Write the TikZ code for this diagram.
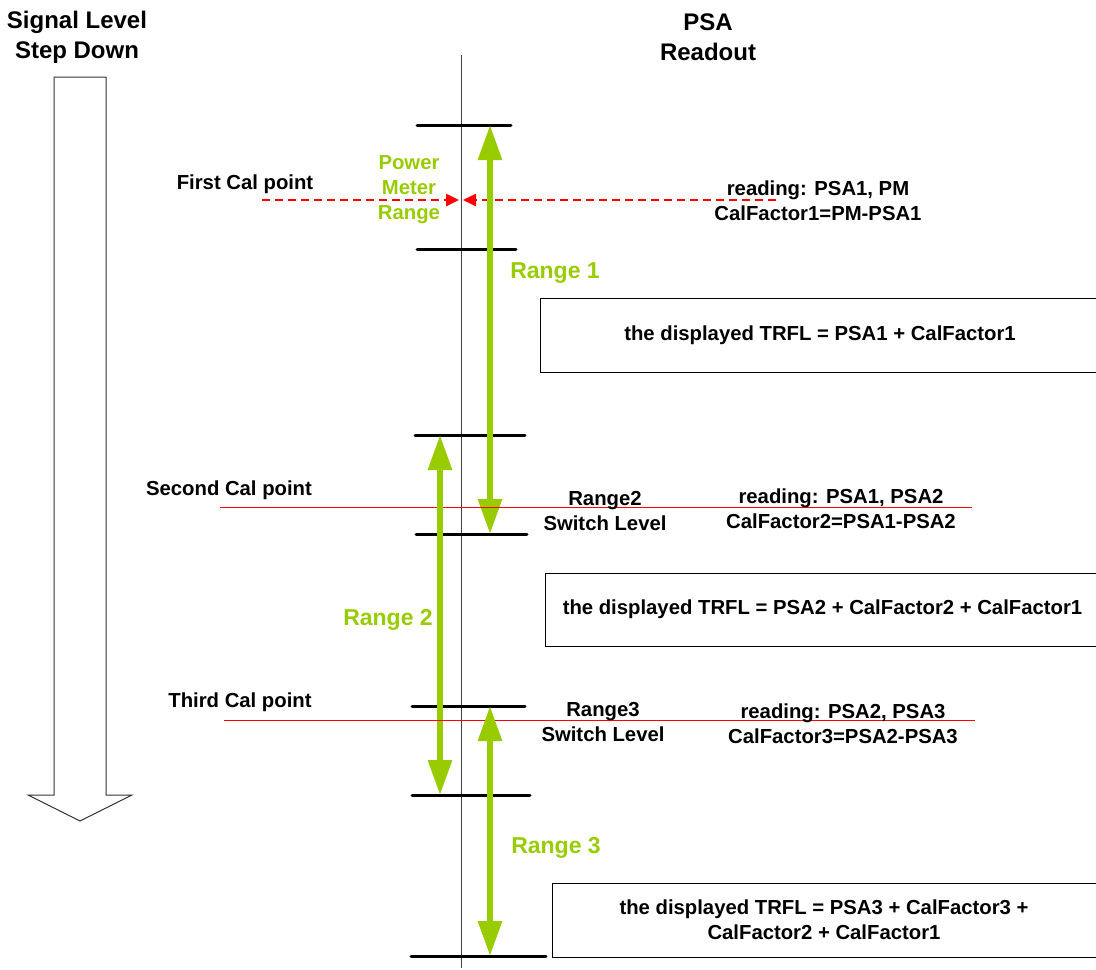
\documentclass[tikz,border=0pt]{standalone}
\usepackage{fontspec}
\setmainfont{Liberation Sans}
\usepackage{tikz}
\usetikzlibrary{arrows.meta}
\definecolor{rangegreen}{RGB}{153,204,0}
\definecolor{calred}{RGB}{255,0,0}

\begin{document}
\begin{tikzpicture}[
  x=1pt,y=-1pt,
  head/.style={font=\fontsize{24}{30}\selectfont\bfseries,align=center,inner sep=0pt},
  lbl/.style={font=\fontsize{20.3}{25}\selectfont\bfseries,align=center,inner sep=0pt},
  pmlbl/.style={lbl,text=rangegreen},
  rnglbl/.style={font=\fontsize{23}{28}\selectfont\bfseries,text=rangegreen,inner sep=0pt},
  level/.style={line width=3pt,line cap=round},
  rngArc/.style={{Triangle[length=35pt,width=23pt]}-{Triangle[length=35pt,width=23pt]},
                 line width=6pt,rangegreen},
  pmArc/.style={-{Triangle[length=13pt,width=12pt]},line width=2.5pt,calred,
                dash pattern=on 8pt off 5pt},
  calline/.style={calred,line width=1pt},
  disp/.style={draw,line width=1pt,lbl,minimum height=74pt}
]
\useasboundingbox (0,0) rectangle (1096,970);
% headings
\node[head] (sig) at (77,37)  {Signal Level\\Step Down};
\node[head] (psa) at (708,37) {PSA\\Readout};
% step down arrow
\draw[line width=1pt,draw=black!80,fill=white]
  (54,77) -- (106,77) -- (106,795) -- (132,795) -- (80,821) -- (28,795) -- (54,795) -- cycle;
% readout axis
\coordinate (axT) at (461,55);
\coordinate (axB) at (461,968);
\draw[line width=1pt,black!75] (axT) -- (axB);
% range levels
\coordinate (l1a) at (417,125); \coordinate (l1b) at (511,125);
\coordinate (l2a) at (417,249); \coordinate (l2b) at (516,249);
\coordinate (l3a) at (415,435); \coordinate (l3b) at (525,435);
\coordinate (l4a) at (416,534); \coordinate (l4b) at (527,534);
\coordinate (l5a) at (412,706); \coordinate (l5b) at (525,706);
\coordinate (l6a) at (412,795); \coordinate (l6b) at (530,795);
\coordinate (l7a) at (411,956); \coordinate (l7b) at (546,956);
\foreach \i in {1,...,7}
  \draw[level] (l\i a) -- (l\i b);
% first cal point
\node[lbl] (cal1) at (245,184) {First Cal point};
\node[pmlbl] (pm) at (409,190) {Power\\Meter\\Range};
\coordinate (pmL) at (262,200);  \coordinate (pmTipL) at (459,200);
\coordinate (pmR) at (776,200);  \coordinate (pmTipR) at (463,200);
\draw[pmArc] (pmL) -- (pmTipL);
\draw[pmArc] (pmR) -- (pmTipR);
\node[lbl] (rd1) at (818,201) {reading: PSA1, PM\\CalFactor1=PM-PSA1};
% range 1
\coordinate (r1T) at (490,125); \coordinate (r1B) at (490,534);
\draw[rngArc] (r1B) -- (r1T);
\node[rnglbl] (rng1) at (555,273) {Range 1};
\node[disp,minimum width=560pt] (box1) at (820,335.5) {the displayed TRFL = PSA1 + CalFactor1};
% second cal point
\node[lbl] (cal2) at (229,490) {Second Cal point};
\coordinate (c2L) at (220,507);
\coordinate (c2R) at (972,507);
\draw[calline] (c2L) -- (c2R);
\node[lbl] (sw2) at (605,511) {Range2\\Switch Level};
\node[lbl] (rd2) at (841,509) {reading: PSA1, PSA2\\CalFactor2=PSA1-PSA2};
% range 2
\coordinate (r2T) at (440,435); \coordinate (r2B) at (440,795);
\draw[rngArc] (r2T) -- (r2B);
\node[rnglbl] (rng2) at (388,620) {Range 2};
\node[disp,minimum width=555pt,minimum height=73pt] (box2) at (822.5,609.5)
  {the displayed TRFL = PSA2 + CalFactor2 + CalFactor1};
% third cal point
\node[lbl] (cal3) at (240,702) {Third Cal point};
\coordinate (c3L) at (224,720);
\coordinate (c3R) at (975,720);
\draw[calline] (c3L) -- (c3R);
\node[lbl] (sw3) at (603,722) {Range3\\Switch Level};
\node[lbl] (rd3) at (843,724) {reading: PSA2, PSA3\\CalFactor3=PSA2-PSA3};
% range 3
\coordinate (r3T) at (490,706); \coordinate (r3B) at (490,956);
\draw[rngArc] (r3T) -- (r3B);
\node[rnglbl] (rng3) at (556,848) {Range 3};
\node[disp,minimum width=544pt] (box3) at (824,920)
  {the displayed TRFL = PSA3 + CalFactor3 +\\CalFactor2 + CalFactor1};
\end{tikzpicture}
\end{document}
